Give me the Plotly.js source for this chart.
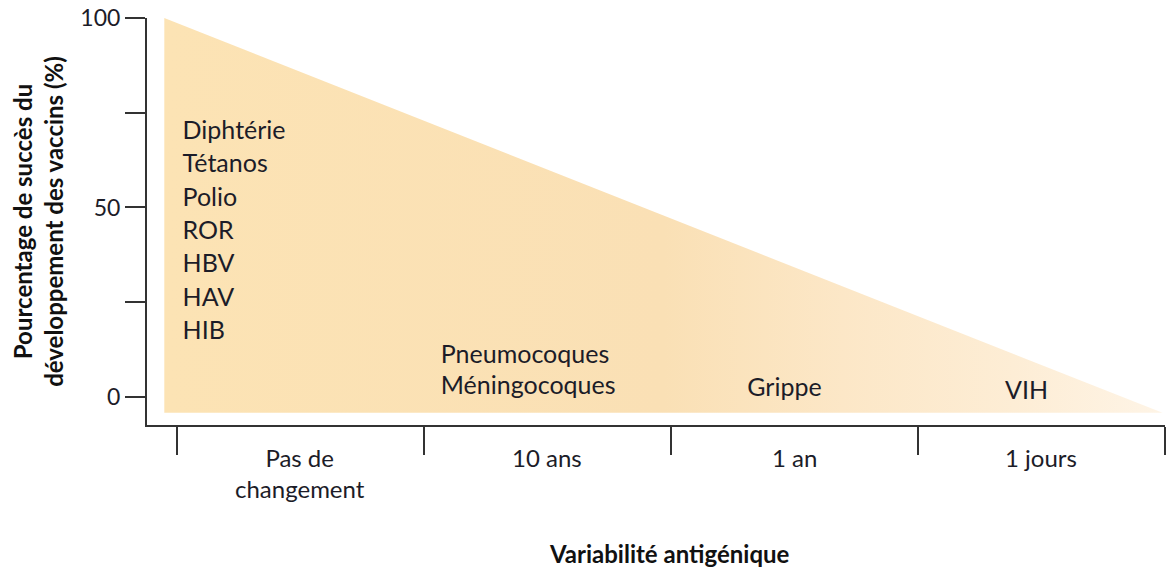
<!DOCTYPE html>
<html>
<head>
<meta charset="utf-8">
<script src="https://cdn.plot.ly/plotly-3.0.1.min.js"></script>
<style>html,body{margin:0;padding:0;background:#fff;}#chart{width:1171px;height:572px;}</style>
</head>
<body>
<div id="chart"></div>
<script>
// Categories of antigenic variability (x axis), one per band
const categories = ['Pas de<br>changement', '10 ans', '1 an', '1 jours'];
// Boundary ticks between bands
const bandEdges = [0, 1, 2, 3, 4];
// Y ticks and labels
const yTickVals = [0, 25, 50, 75, 100];
const yTickText = ['0', '', '50', '', '100'];
// Triangle: success percentage falls from 100 to 0 across the range
const triX = [-0.05, -0.05, 3.99];
const triY = [100, -4.2, -4.2];
// Vaccines in the first band
const band1Vaccines = ['Diphtérie', 'Tétanos', 'Polio', 'ROR', 'HBV', 'HAV', 'HIB'];
// Vaccines in other bands
const band2Vaccines = ['Pneumocoques', 'Méningocoques'];
const band3Vaccines = ['Grippe'];
const band4Vaccines = ['VIH'];

const FONT = 'Lato, "Open Sans", sans-serif';
const TXT = '#1c1c28';
const LBL = 25;

const traces = [
  {
    x: triX, y: triY, type: 'scatter', mode: 'lines', fill: 'toself',
    line: {width: 0, color: 'rgba(0,0,0,0)'},
    fillgradient: {
      type: 'horizontal',
      colorscale: [[0, '#FCE3B4'], [0.5, '#FAE0B5'], [0.68, '#FCE7C7'], [0.85, '#FDEDD5'], [1, '#FEF4E6']]
    },
    hoverinfo: 'skip', showlegend: false
  },
  {
    x: band1Vaccines.map(() => 0.024),
    y: band1Vaccines.map((_, i) => 69.7 - i * 8.8),
    text: band1Vaccines, type: 'scatter', mode: 'text', textposition: 'middle right',
    textfont: {family: FONT, size: LBL, color: TXT}, showlegend: false, hoverinfo: 'skip'
  },
  {
    x: band2Vaccines.map(() => 1.069),
    y: band2Vaccines.map((_, i) => 10.5 - i * 8.2),
    text: band2Vaccines, type: 'scatter', mode: 'text', textposition: 'middle right',
    textfont: {family: FONT, size: LBL, color: TXT}, showlegend: false, hoverinfo: 'skip'
  },
  {
    x: [2.46], y: [1.8], text: band3Vaccines, type: 'scatter', mode: 'text', textposition: 'middle center',
    textfont: {family: FONT, size: LBL, color: TXT}, showlegend: false, hoverinfo: 'skip'
  },
  {
    x: [3.44], y: [1.0], text: band4Vaccines, type: 'scatter', mode: 'text', textposition: 'middle center',
    textfont: {family: FONT, size: LBL, color: TXT}, showlegend: false, hoverinfo: 'skip'
  }
];

const annotations = categories.map((c, i) => ({
  x: i + 0.5, y: 0, xref: 'x', yref: 'paper', yanchor: 'top', yshift: -16,
  text: c, showarrow: false, font: {family: FONT, size: 24, color: TXT}
}));
annotations.push({
  x: 0.5128, y: -0.3145, xref: 'paper', yref: 'paper', xanchor: 'center', yanchor: 'middle',
  text: '<b>Variabilité antigénique</b>', showarrow: false,
  font: {family: FONT, size: 24, color: '#111'}
});

const layout = {
  width: 1171, height: 572,
  margin: {l: 147, r: 6, t: 18, b: 147},
  paper_bgcolor: '#ffffff', plot_bgcolor: '#ffffff',
  showlegend: false,
  xaxis: {
    range: [-0.12, 4.0], showgrid: false, zeroline: false,
    showline: true, linecolor: '#333', linewidth: 2,
    tickmode: 'array', tickvals: bandEdges, ticktext: bandEdges.map(() => ''),
    ticks: 'outside', ticklen: 28, tickwidth: 2, tickcolor: '#333',
    fixedrange: true
  },
  yaxis: {
    range: [-7.4, 100], showgrid: false, zeroline: false,
    showline: true, linecolor: '#333', linewidth: 2,
    tickmode: 'array', tickvals: yTickVals, ticktext: yTickText,
    ticks: 'outside', ticklen: 20, tickwidth: 2, tickcolor: '#333',
    tickfont: {family: FONT, size: 23, color: TXT},
    title: {text: '<b>Pourcentage de succès du<br>développement des vaccins (%)</b>', font: {family: FONT, size: 24, color: '#111'}, standoff: 10},
    fixedrange: true
  },
  annotations: annotations,
  font: {family: FONT}
};

Plotly.newPlot('chart', traces, layout, {displayModeBar: false, staticPlot: true});
</script>
</body>
</html>
